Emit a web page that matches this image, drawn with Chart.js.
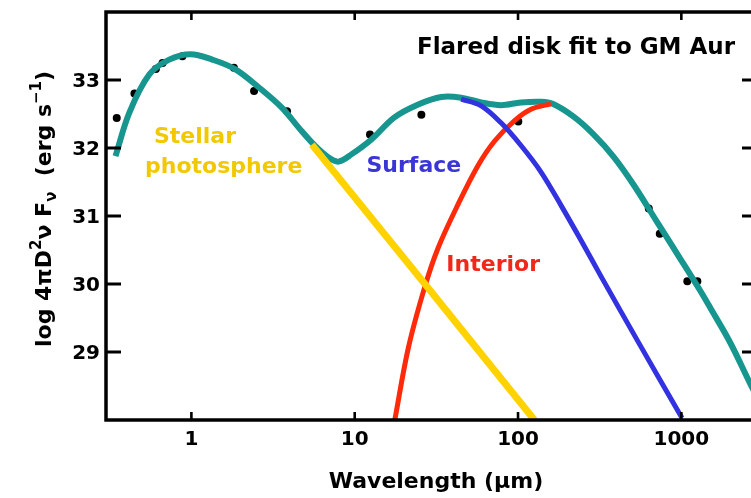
<!DOCTYPE html>
<html>
<head>
<meta charset="utf-8">
<script src="https://cdn.jsdelivr.net/npm/chart.js@4/dist/chart.umd.min.js"></script>
<style>
  html, body { margin: 0; padding: 0; background: #fff; overflow: hidden; }
  #sed { display: block; }
</style>
</head>
<body>
<canvas id="sed" width="770" height="498"></canvas>
<script>
// Spectral energy distribution of GM Aur: wavelength in µm, log 4πD²νFν in erg/s

// observed photometry
const obsWave = [0.349, 0.448, 0.606, 0.666, 0.881, 1.82, 2.42, 3.85, 12.4, 25.6, 100.4, 632, 738, 1088, 1253];
const obsFlux = [32.44, 32.80, 33.16, 33.25, 33.35, 33.18, 32.84, 32.54, 32.20, 32.49, 32.39, 31.11, 30.74, 30.04, 30.04];

// total model (star + disk)
const totalWave = [0.343, 0.417, 0.552, 0.731, 0.99, 1.34, 1.85, 2.59, 3.59, 4.54, 5.73, 6.92, 7.96, 9.59, 12.7, 17.5, 24.5, 33.9, 44.9, 59.5, 78.7, 104, 138, 163, 219, 290, 385, 510, 711, 986, 1306, 1503, 1990, 2673, 3119];
const totalFlux = [31.88, 32.52, 33.08, 33.30, 33.38, 33.30, 33.16, 32.89, 32.59, 32.30, 32.03, 31.86, 31.80, 31.91, 32.13, 32.45, 32.64, 32.75, 32.74, 32.67, 32.63, 32.67, 32.68, 32.65, 32.46, 32.20, 31.87, 31.46, 30.91, 30.37, 29.90, 29.65, 29.14, 28.51, 28.21];

// stellar photosphere
const starWave = [5.47, 26.9, 126];
const starFlux = [32.05, 30.00, 28.00];

// disk surface layer
const surfWave = [44.9, 59.5, 78.7, 104, 138, 183, 242, 321, 562, 1010];
const surfFlux = [32.72, 32.62, 32.37, 32.04, 31.65, 31.16, 30.65, 30.12, 29.09, 28.03];

// disk interior
const intWave = [17.6, 21.3, 26.8, 32.4, 42.9, 56.8, 71.7, 94.9, 120, 159];
const intFlux = [28.00, 29.06, 29.95, 30.53, 31.17, 31.74, 32.10, 32.40, 32.57, 32.65];

// axis ticks
const xTicks = [1, 10, 100, 1000];
const xTickLabels = ['1', '10', '100', '1000'];
const yTicks = [29, 30, 31, 32, 33];

// component labels: text, wavelength, flux (baseline-left anchor)
const labelText = ['Stellar', 'photosphere', 'Surface', 'Interior'];
const labelWave = [0.59, 0.52, 11.8, 36.4];
const labelFlux = [32.07, 31.63, 31.65, 30.19];
const labelColor = ['#f2c800', '#f2c800', '#3b34d6', '#f0281a'];

const pts = (w, f) => w.map((v, i) => ({ x: v, y: f[i] }));
const FONT = '"DejaVu Sans", "Liberation Sans", Arial, sans-serif';

const axesPlugin = {
  id: 'sedAxes',
  afterDatasetsDraw(chart) {
    const { ctx, chartArea: a, scales: { x, y } } = chart;
    ctx.save();
    ctx.strokeStyle = '#000';
    ctx.fillStyle = '#000';

    // frame
    ctx.lineWidth = 3.5;
    ctx.strokeRect(a.left, a.top, a.right - a.left, a.bottom - a.top);

    // inward ticks, left and right
    ctx.lineWidth = 3.2;
    yTicks.forEach(v => {
      const py = y.getPixelForValue(v);
      ctx.beginPath();
      ctx.moveTo(a.left, py); ctx.lineTo(a.left + 15, py);
      ctx.moveTo(a.right, py); ctx.lineTo(a.right - 15, py);
      ctx.stroke();
    });
    // inward ticks, top and bottom
    ctx.lineWidth = 2.6;
    xTicks.forEach(v => {
      const px = x.getPixelForValue(v);
      ctx.beginPath();
      ctx.moveTo(px, a.top); ctx.lineTo(px, a.top + 8);
      ctx.moveTo(px, a.bottom); ctx.lineTo(px, a.bottom - 8);
      ctx.stroke();
    });

    // tick labels
    ctx.font = 'bold 20px ' + FONT;
    ctx.textBaseline = 'alphabetic';
    ctx.textAlign = 'right';
    yTicks.forEach(v => {
      ctx.fillText(String(v), a.left - 6, y.getPixelForValue(v) + 7);
    });
    ctx.textAlign = 'center';
    xTicks.forEach((v, i) => {
      ctx.fillText(xTickLabels[i], x.getPixelForValue(v), a.bottom + 25);
    });

    // x title
    ctx.font = 'bold 22px ' + FONT;
    ctx.fillText('Wavelength (\u00b5m)', 436, a.bottom + 68);

    // y title, rotated, with super/subscripts
    ctx.save();
    ctx.translate(51, 347);
    ctx.rotate(-Math.PI / 2);
    ctx.textAlign = 'left';
    let cx = 0;
    const seg = (txt, size, dy) => {
      ctx.font = 'bold ' + size + 'px ' + FONT;
      ctx.fillText(txt, cx, dy);
      cx += ctx.measureText(txt).width;
    };
    seg('log 4\u03c0D', 22, 0);
    seg('2', 15, -10);
    seg('\u03bd F', 22, 0);
    seg('\u03bd', 15, 5);
    seg('  (erg s', 22, 0);
    seg('\u22121', 15, -10);
    seg(')', 22, 0);
    ctx.restore();

    // title
    ctx.font = 'bold 23px ' + FONT;
    ctx.textAlign = 'right';
    ctx.fillText('Flared disk fit to GM Aur', 735, 54);

    // component labels
    ctx.font = 'bold 22px ' + FONT;
    ctx.textAlign = 'left';
    labelText.forEach((t, i) => {
      ctx.fillStyle = labelColor[i];
      ctx.fillText(t, x.getPixelForValue(labelWave[i]), y.getPixelForValue(labelFlux[i]));
    });
    ctx.restore();
  }
};

new Chart(document.getElementById('sed'), {
  type: 'line',
  data: {
    datasets: [
      { label: 'Surface', data: pts(surfWave, surfFlux), borderColor: '#3232e0', borderWidth: 5, order: 0 },
      { label: 'Stellar photosphere', data: pts(starWave, starFlux), borderColor: '#ffd200', borderWidth: 7, tension: 0, order: 1 },
      { label: 'Interior', data: pts(intWave, intFlux), borderColor: '#ff2a0a', borderWidth: 5, order: 2 },
      { label: 'Total', data: pts(totalWave, totalFlux), borderColor: '#17968f', borderWidth: 6, order: 3 },
      { label: 'Observed', data: pts(obsWave, obsFlux), showLine: false, pointRadius: 4, pointBackgroundColor: '#000', pointBorderWidth: 0, borderColor: '#000', order: 4 }
    ]
  },
  options: {
    responsive: false,
    devicePixelRatio: 1,
    animation: false,
    layout: { padding: { left: 106, top: 12, right: 13, bottom: 78 } },
    elements: {
      line: { tension: 0.35, fill: false, borderCapStyle: 'butt', borderJoinStyle: 'round' },
      point: { radius: 0 }
    },
    scales: {
      x: { type: 'logarithmic', min: 0.312, max: 2906, display: false },
      y: { type: 'linear', min: 28, max: 34, display: false }
    },
    plugins: { legend: { display: false }, tooltip: { enabled: false } }
  },
  plugins: [axesPlugin]
});
</script>
</body>
</html>
